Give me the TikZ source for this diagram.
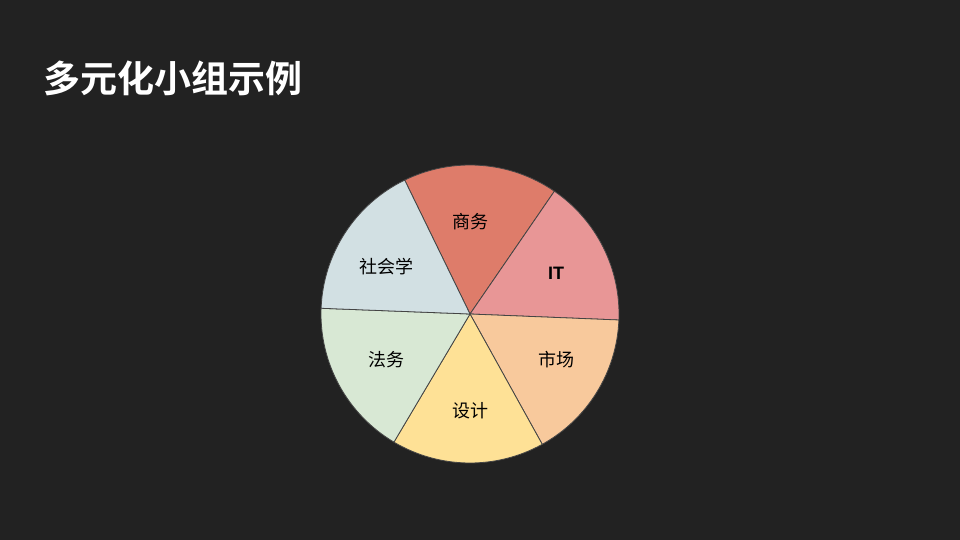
\documentclass[tikz,border=0pt]{standalone}
\usepackage{fontspec}
\newfontfamily\cjk{Noto Sans CJK SC}
\newfontfamily\cjkb{Noto Sans CJK SC Bold}
\setmainfont{Liberation Sans}
\definecolor{bg}{HTML}{222222}
\definecolor{cBiz}{HTML}{DE7C6A}
\definecolor{cIT}{HTML}{E89696}
\definecolor{cMkt}{HTML}{F8C99C}
\definecolor{cDes}{HTML}{FEE196}
\definecolor{cLaw}{HTML}{D8E8D4}
\definecolor{cSoc}{HTML}{D2E0E3}
\definecolor{edge}{HTML}{444444}
\tikzset{
  slice/.style={draw=edge, line width=0.8pt, line join=round},
  lbl/.style={text=black, font=\cjk\fontsize{18}{21}\selectfont, inner sep=0pt},
  ttl/.style={text=white, font=\cjkb\fontsize{37}{42}\selectfont, anchor=west, inner sep=0pt}
}
\begin{document}
\begin{tikzpicture}[x=1pt,y=-1pt]
\fill[bg] (0,0) rectangle (960,540);
\useasboundingbox (0,0) rectangle (960,540);
\node[ttl] (title) at (43,78) {多元化小组示例};
\coordinate (c) at (470,314);
\def\R{149}
\foreach \a/\b/\col in {55.5/116/cBiz, -2.3/55.5/cIT, -61/-2.3/cMkt, -120.7/-61/cDes, -182.2/-120.7/cLaw, 116/177.8/cSoc}{
  \filldraw[slice, fill=\col] (c) -- ++({\R*cos(\a)},{-\R*sin(\a)}) arc[start angle=-\a, end angle=-\b, radius=\R] -- cycle;
}
\node[lbl] (biz) at (470,222) {商务};
\node[lbl, font=\bfseries\fontsize{18}{21}\selectfont] (it) at (556,273) {IT};
\node[lbl] (mkt) at (556,360) {市场};
\node[lbl] (des) at (470,411) {设计};
\node[lbl] (law) at (386,360) {法务};
\node[lbl] (soc) at (386,267) {社会学};
\end{tikzpicture}
\end{document}
